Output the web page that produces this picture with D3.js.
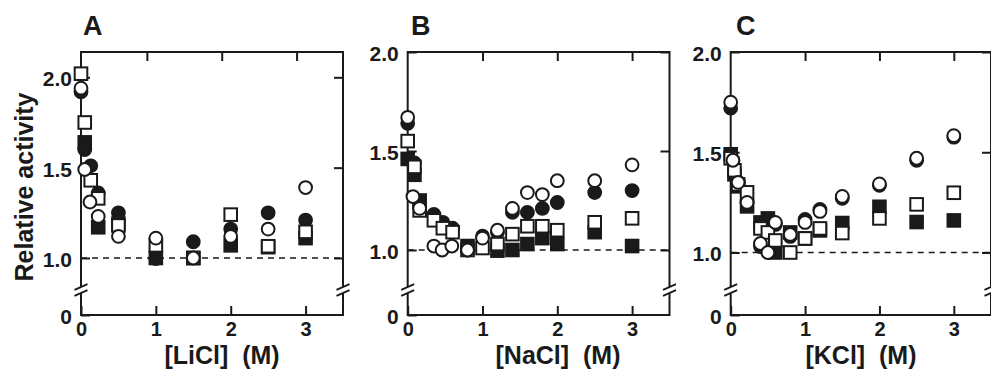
<!DOCTYPE html>
<html>
<head>
<meta charset="utf-8">
<script src="https://cdn.jsdelivr.net/npm/d3@7"></script>
<style>
body { margin: 0; background: #fff; }
svg text { font-family: "Liberation Sans", Arial, sans-serif; font-weight: bold; fill: #1a1a1a; }
.tick line { stroke: #1a1a1a; stroke-width: 2; }
</style>
</head>
<body>
<div id="chart"></div>
<script>
// tick values / labels shared by the three panels
const xTickValues = [0, 1, 2, 3];
const yTickValues = [0, 1, 1.5, 2];
const yTickLabels = ["0", "1.0", "1.5", "2.0"];
const panelLetters = ["A", "B", "C"];
const saltLabels = ["[LiCl]  (M)", "[NaCl]  (M)", "[KCl]  (M)"];

// [salt] (M), relative activity
const liclFilledCircle = [[0, 1.92], [0.05, 1.6], [0.13, 1.51], [0.23, 1.36], [0.5, 1.25], [1, 0.99], [1.5, 1.09], [2, 1.16], [2.5, 1.25], [3, 1.21]];
const liclOpenCircle = [[0, 1.94], [0.05, 1.49], [0.12, 1.31], [0.23, 1.23], [0.5, 1.12], [1, 1.11], [1.5, 1.0], [2, 1.12], [2.5, 1.16], [3, 1.39]];
const liclFilledSquare = [[0.05, 1.64], [0.23, 1.17], [0.5, 1.19], [1, 1.0], [1.5, 1.0], [2, 1.07], [2.5, 1.06], [3, 1.11]];
const liclOpenSquare = [[0, 2.02], [0.05, 1.75], [0.13, 1.43], [0.23, 1.33], [0.5, 1.18], [1, 1.07], [1.5, 1.0], [2, 1.24], [2.5, 1.065], [3, 1.145]];

const naclFilledCircle = [[0, 1.64], [0.09, 1.44], [0.35, 1.18], [0.47, 1.14], [0.6, 1.11], [0.8, 1.0], [1, 1.07], [1.2, 1.09], [1.4, 1.19], [1.6, 1.19], [1.8, 1.21], [2, 1.24], [2.5, 1.29], [3, 1.3]];
const naclOpenCircle = [[0, 1.67], [0.07, 1.27], [0.16, 1.21], [0.35, 1.02], [0.46, 1.0], [0.59, 1.02], [0.8, 1.0], [1, 1.06], [1.2, 1.1], [1.4, 1.21], [1.6, 1.29], [1.8, 1.28], [2, 1.35], [2.5, 1.35], [3, 1.43]];
const naclFilledSquare = [[0, 1.46], [0.09, 1.38], [0.16, 1.25], [0.8, 1.02], [1.2, 0.99], [1.4, 1.0], [1.6, 1.03], [1.8, 1.06], [2, 1.03], [2.5, 1.09], [3, 1.02]];
const naclOpenSquare = [[0, 1.55], [0.09, 1.42], [0.16, 1.2], [0.35, 1.15], [0.47, 1.11], [0.6, 1.09], [0.8, 1.0], [1, 1.01], [1.2, 1.03], [1.4, 1.08], [1.6, 1.12], [1.8, 1.12], [2, 1.1], [2.5, 1.14], [3, 1.16]];

const kclFilledCircle = [[0, 1.72], [0.03, 1.46], [0.1, 1.35], [0.22, 1.25], [0.4, 1.03], [0.6, 1.14], [0.8, 1.08], [1, 1.165], [1.2, 1.215], [1.5, 1.27], [2, 1.335], [2.5, 1.46], [3, 1.575]];
const kclOpenCircle = [[0, 1.75], [0.03, 1.46], [0.1, 1.35], [0.22, 1.25], [0.4, 1.045], [0.5, 1.0], [0.6, 1.15], [0.8, 1.09], [1, 1.15], [1.2, 1.205], [1.5, 1.28], [2, 1.342], [2.5, 1.47], [3, 1.583]];
const kclFilledSquare = [[0, 1.49], [0.05, 1.39], [0.1, 1.33], [0.22, 1.23], [0.4, 1.15], [0.5, 1.17], [0.6, 1.0], [0.8, 1.1], [1, 1.07], [1.2, 1.11], [1.5, 1.147], [2, 1.228], [2.5, 1.152], [3, 1.16]];
const kclOpenSquare = [[0, 1.47], [0.05, 1.41], [0.1, 1.34], [0.22, 1.3], [0.4, 1.12], [0.5, 1.1], [0.6, 1.06], [0.8, 1.0], [1, 1.07], [1.2, 1.12], [1.5, 1.097], [2, 1.17], [2.5, 1.24], [3, 1.298]];

const INK = "#1a1a1a";

function Panel(svg, opts, series){
	this.svg = svg;
	this.opts = opts;
	this.series = series;
	this.top = 52;
	this.bottom = 315;
}

Panel.prototype = {
	constructor: Panel,

	init: function(){
		let self = this;
		let o = self.opts;

		let x = d3.scaleLinear().domain([0, 3.5]).range([o.left, o.right]);
		// broken axis: 0 sits at the bottom, the linear part starts at 1.0
		let y = d3.scaleLinear().domain([0, 1, o.yMax]).range([self.bottom, o.y1, self.top]);

		let g = self.svg.append("g");

		// frame with breaks on the two vertical sides
		let brk = self.bottom - 25;
		let frame = g.append("g").attr("stroke", INK).attr("stroke-width", 2).attr("fill", "none");
		frame.append("path").attr("d",
			"M" + o.left + "," + (brk - 3) + "V" + self.top + "H" + o.right + "V" + (brk - 3) +
			"M" + o.left + "," + (brk + 3) + "V" + self.bottom + "H" + o.right + "V" + (brk + 3));
		[o.left, o.right].forEach(function(bx){
			[brk - 3, brk + 3].forEach(function(by){
				frame.append("line")
					.attr("x1", bx - 6.5).attr("y1", by + 2.8)
					.attr("x2", bx + 6.5).attr("y2", by - 2.8)
					.attr("stroke-width", 1.8);
			});
		});

		// dashed reference at 1.0
		g.append("line")
			.attr("x1", x(0)).attr("x2", x(3.5))
			.attr("y1", y(1)).attr("y2", y(1))
			.attr("stroke", INK).attr("stroke-width", 1.6)
			.attr("stroke-dasharray", "6,5");

		g.append("g")
			.attr("transform", "translate(" + o.left + ",0)")
			.call(d3.axisLeft(y).tickValues(yTickValues).tickSize(-9).tickPadding(9)
				.tickFormat(function(d, i){ return yTickLabels[i]; }))
			.call(function(a){ a.select(".domain").remove(); })
			.selectAll("text")
				.attr("font-size", 21).attr("dy", "0.4em");

		g.append("g")
			.attr("transform", "translate(" + o.right + ",0)")
			.call(d3.axisRight(y).tickValues([1, 1.5, 2]).tickSize(-9).tickFormat(""))
			.call(function(a){ a.select(".domain").remove(); });

		g.append("g")
			.attr("transform", "translate(0," + self.bottom + ")")
			.call(d3.axisBottom(x).tickValues(xTickValues).tickSize(-9).tickPadding(7)
				.tickFormat(d3.format("d")))
			.call(function(a){ a.select(".domain").remove(); })
			.selectAll("text")
				.attr("font-size", 20);

		g.append("g")
			.attr("transform", "translate(" + o.topShift + "," + self.top + ")")
			.call(d3.axisTop(x).tickValues([1, 2, 3]).tickSize(-9).tickFormat(""))
			.call(function(a){ a.select(".domain").remove(); });

		// markers: filled square, filled circle, open square, open circle
		let r = 6.4, s = 12.6;
		self.series.forEach(function(ser){
			let pts = g.append("g")
				.attr("fill", ser.filled ? INK : "#fff")
				.attr("stroke", INK).attr("stroke-width", 2)
				.selectAll(".pt").data(ser.data).enter();
			if (ser.shape === "circle") {
				pts.append("circle")
					.attr("cx", function(d){ return x(d[0]); })
					.attr("cy", function(d){ return y(d[1]); })
					.attr("r", r);
			} else {
				pts.append("rect")
					.attr("x", function(d){ return x(d[0]) - s / 2; })
					.attr("y", function(d){ return y(d[1]) - s / 2; })
					.attr("width", s).attr("height", s);
			}
		});

		g.append("text")
			.attr("x", o.letterX).attr("y", 35)
			.attr("font-size", 27)
			.text(o.letter);

		g.append("text")
			.attr("x", o.labelX).attr("y", 364)
			.attr("text-anchor", "middle")
			.attr("font-size", 25)
			.attr("xml:space", "preserve")
			.text(o.label);
	}
}

let svg = d3.select("#chart").append("svg")
	.attr("width", 991).attr("height", 370);

let layouts = [
	{ left: 81, right: 343, y1: 258, yMax: 2.14, topShift: -9, letterX: 83, labelX: 222 },
	{ left: 407.7, right: 669.5, y1: 250, yMax: 2.0, topShift: 0, letterX: 411, labelX: 558 },
	{ left: 730.7, right: 991, y1: 252.5, yMax: 2.0, topShift: 0, letterX: 736, labelX: 861 }
];

let panelData = [
	[liclFilledSquare, liclFilledCircle, liclOpenSquare, liclOpenCircle],
	[naclFilledSquare, naclFilledCircle, naclOpenSquare, naclOpenCircle],
	[kclFilledSquare, kclFilledCircle, kclOpenSquare, kclOpenCircle]
];

for (let i = 0; i < layouts.length; i++) {
	let opts = Object.assign({ letter: panelLetters[i], label: saltLabels[i] }, layouts[i]);
	let series = [
		{ shape: "square", filled: true, data: panelData[i][0] },
		{ shape: "circle", filled: true, data: panelData[i][1] },
		{ shape: "square", filled: false, data: panelData[i][2] },
		{ shape: "circle", filled: false, data: panelData[i][3] }
	];
	new Panel(svg, opts, series).init();
}

svg.append("text")
	.attr("transform", "translate(33,187) rotate(-90)")
	.attr("text-anchor", "middle")
	.attr("font-size", 25)
	.text("Relative activity");
</script>
</body>
</html>
